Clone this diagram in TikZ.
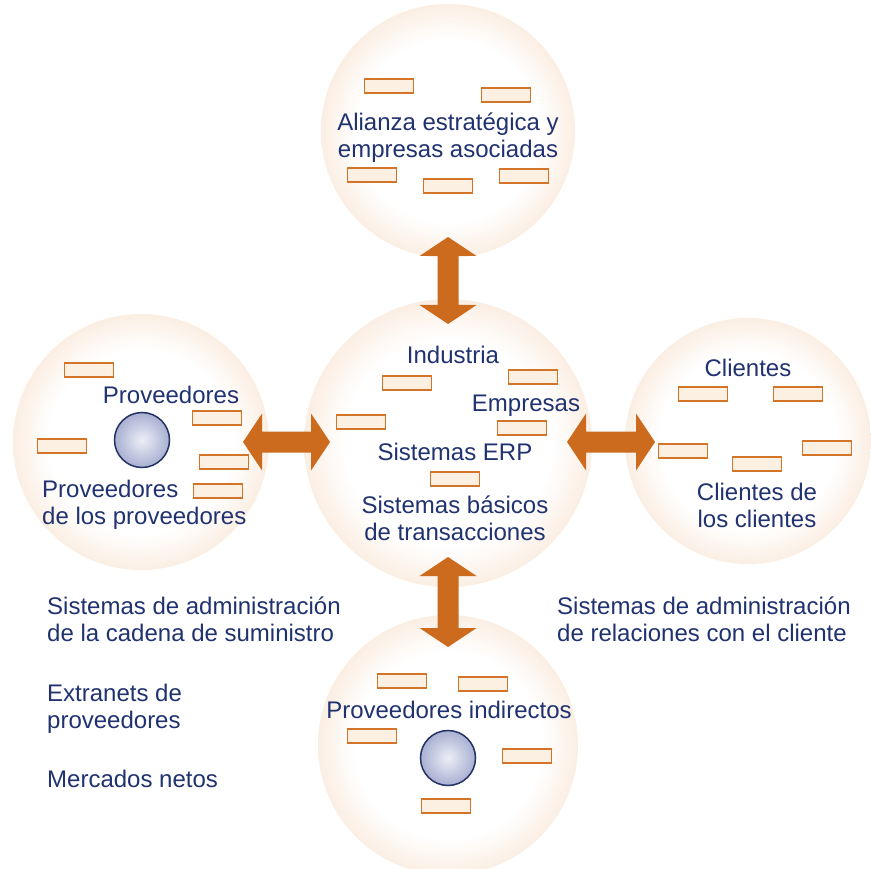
\documentclass[tikz,border=0pt]{standalone}
\usepackage{fontspec}
\setmainfont{Liberation Sans}
\usetikzlibrary{calc}
\definecolor{peach}{RGB}{240,194,152}
\definecolor{arrowc}{RGB}{204,106,30}
\definecolor{boxc}{RGB}{212,116,40}
\definecolor{boxfill}{RGB}{252,240,226}
\definecolor{textc}{RGB}{32,50,112}
\definecolor{orbin}{RGB}{236,238,247}
\definecolor{orbout}{RGB}{140,150,194}
\definecolor{orbline}{RGB}{36,50,100}
\pgfdeclareradialshading{glow}{\pgfpoint{0bp}{0bp}}{color(0bp)=(white); color(18bp)=(white); color(27bp)=(peach!35!white); color(33bp)=(peach!80!white); color(35.4bp)=(peach); color(50bp)=(peach)}
\pgfdeclareradialshading{orb}{\pgfpoint{0bp}{0bp}}{color(0bp)=(orbin); color(35.4bp)=(orbout); color(50bp)=(orbout)}
\tikzset{
  sphere/.style={circle, shade, shading=glow, inner sep=0},
  smallbox/.style={draw=boxc, fill=boxfill, line width=1.8pt, minimum width=49pt, minimum height=13.5pt, inner sep=0},
  orbnode/.style={circle, shade, shading=orb, draw=orbline, line width=1.5pt, minimum size=55pt, inner sep=0},
  txt/.style={text=textc, font=\fontsize{24}{27}\selectfont, inner sep=0},
}
\newcommand\vdbl[2]{%
  \fill[arrowc] (#1) -- ($(#1)+(28.5,19)$) -- ($(#1)+(10.5,19)$) -- ($(#2)+(10.5,-19)$) -- ($(#2)+(28.5,-19)$) -- (#2) -- ($(#2)+(-28.5,-19)$) -- ($(#2)+(-10.5,-19)$) -- ($(#1)+(-10.5,19)$) -- ($(#1)+(-28.5,19)$) -- cycle;}
\newcommand\hdbl[2]{%
  \fill[arrowc] (#1) -- ($(#1)+(19,-28.5)$) -- ($(#1)+(19,-10.5)$) -- ($(#2)+(-19,-10.5)$) -- ($(#2)+(-19,-28.5)$) -- (#2) -- ($(#2)+(-19,28.5)$) -- ($(#2)+(-19,10.5)$) -- ($(#1)+(19,10.5)$) -- ($(#1)+(19,28.5)$) -- cycle;}
\begin{document}
\begin{tikzpicture}[x=1pt,y=-1pt]
\fill[white] (0,0) rectangle (871,869);
\useasboundingbox (0,0) rectangle (871,869);
% big circles
\node[sphere, minimum size=254pt] (ctop) at (448,131) {};
\node[sphere, minimum size=256pt] (cleft) at (141,442) {};
\node[sphere, minimum size=246pt] (cright) at (748,441) {};
\node[sphere, minimum size=260pt] (cbot) at (448,745) {};
\node[sphere, minimum size=288pt] (ccen) at (448,443) {};
% arrows
\coordinate (a1s) at (448,237); \coordinate (a1e) at (448,324);
\coordinate (a2s) at (448,557); \coordinate (a2e) at (448,647);
\coordinate (a3s) at (243,442); \coordinate (a3e) at (330,442);
\coordinate (a4s) at (567,442); \coordinate (a4e) at (655,442);
\vdbl{a1s}{a1e}
\vdbl{a2s}{a2e}
\hdbl{a3s}{a3e}
\hdbl{a4s}{a4e}
% small boxes
\foreach \p [count=\i] in {(389,86),(506,95),(372,175),(448,186),(524,176),
  (89,370),(217,418),(62,446),(224,462),(218,491),
  (407,383),(533,377),(361,422),(522,428),(455,479),
  (703,394),(798,394),(683,451),(757,464),(827,448),
  (402,681),(483,684),(372,736),(527,756),(446,806)}
  \node[smallbox] (b\i) at \p {};
% orbs
\node[orbnode] (orbL) at (142,440) {};
\node[orbnode] (orbB) at (448,758) {};
% texts (base anchor of multi-line nodes = last line)
\node[txt, anchor=base, align=center] (ttop) at (448,158) {Alianza estratégica y\\empresas asociadas};
\node[txt, anchor=base] (tprov) at (171,403) {Proveedores};
\node[txt, anchor=base west, align=left] (tprovprov) at (42,524) {Proveedores\\de los proveedores};
\node[txt, anchor=base] (tind) at (453,363) {Industria};
\node[txt, anchor=base] (temp) at (526,411) {Empresas};
\node[txt, anchor=base] (terp) at (455,460) {Sistemas ERP};
\node[txt, anchor=base, align=center] (tbas) at (455,540) {Sistemas básicos\\de transacciones};
\node[txt, anchor=base] (tcli) at (748,377) {Clientes};
\node[txt, anchor=base, align=center] (tclicli) at (757,527) {Clientes de\\los clientes};
\node[txt, anchor=base] (tind2) at (449,718) {Proveedores indirectos};
\node[txt, anchor=base west, align=left] (tscm) at (47,641) {Sistemas de administración\\de la cadena de suministro};
\node[txt, anchor=base west, align=left] (text) at (47,728) {Extranets de\\proveedores};
\node[txt, anchor=base west] (tmer) at (47,787) {Mercados netos};
\node[txt, anchor=base west, align=left] (tcrm) at (557,641) {Sistemas de administración\\de relaciones con el cliente};
\end{tikzpicture}
\end{document}
